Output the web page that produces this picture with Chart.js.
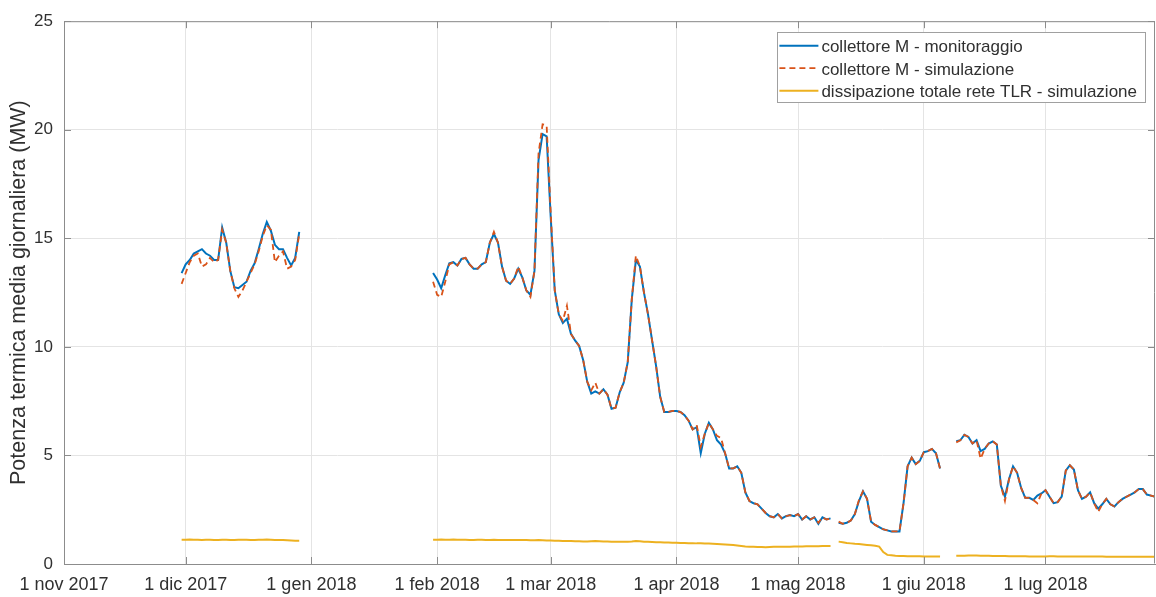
<!DOCTYPE html>
<html>
<head>
<meta charset="utf-8">
<script src="https://cdn.jsdelivr.net/npm/chart.js@4.4.1/dist/chart.umd.min.js"></script>
<style>
  html, body { margin: 0; padding: 0; background: #ffffff; }
  #wrap { width: 1156px; height: 597px; }
</style>
</head>
<body>
<div id="wrap"><canvas id="c" width="1156" height="597"></canvas></div>
<script>
// ---------------- DATA ----------------
const originDate = '2017-11-01';
const endDate = '2018-07-28';
const tickDates = ['2017-11-01','2017-12-01','2018-01-01','2018-02-01','2018-03-01','2018-04-01','2018-05-01','2018-06-01','2018-07-01'];
const tickLabels = ['1 nov 2017','1 dic 2017','1 gen 2018','1 feb 2018','1 mar 2018','1 apr 2018','1 mag 2018','1 giu 2018','1 lug 2018'];
const yTicks = [0, 5, 10, 15, 20, 25];

const seriesLabels = ['collettore M - monitoraggio', 'collettore M - simulazione', 'dissipazione totale rete TLR - simulazione'];
const yTitle = 'Potenza termica media giornaliera (MW)';

// first day of each continuous block of daily values
const segmentStarts = ['2017-11-30', '2018-01-31', '2018-05-11', '2018-06-09'];

// collettore M - monitoraggio (daily, MW)
const monitor1 = [13.4,13.8,14.0,14.3,14.4,14.5,14.3,14.2,14.0,14.0,15.5,14.8,13.5,12.75,12.7,12.85,13.0,13.5,13.85,14.5,15.2,15.75,15.35,14.7,14.5,14.5,14.1,13.75,14.1,15.3];
const monitor2 = [13.4,13.1,12.7,13.3,13.85,13.9,13.75,14.05,14.1,13.8,
                  13.6,13.6,13.8,13.9,14.8,15.2,14.8,13.7,13.05,12.9,
                  13.15,13.6,13.2,12.6,12.4,13.5,18.6,19.8,19.7,16.0,
                  12.6,11.5,11.1,11.3,10.6,10.3,10.05,9.4,8.4,7.85,
                  7.95,7.85,8.05,7.8,7.15,7.2,7.9,8.35,9.3,12.2,
                  14.0,13.7,12.5,11.5,10.3,9.1,7.7,7.0,7.0,7.05,
                  7.05,7.0,6.85,6.6,6.2,6.3,5.1,6.0,6.5,6.2,
                  5.7,5.5,5.1,4.4,4.4,4.5,4.2,3.3,2.9,2.8,
                  2.75,2.55,2.35,2.2,2.15,2.3,2.1,2.2,2.25,2.2,
                  2.3,2.05,2.2,2.05,2.15,1.85,2.15,2.05,2.1];
const monitor3 = [1.9,1.85,1.9,2.0,2.3,2.9,3.35,3.0,1.95,1.8,1.7,1.6,1.55,1.5,1.5,1.5,2.8,4.5,4.9,4.6,4.75,5.15,5.2,5.3,5.1,4.4];
const monitor4 = [5.65,5.7,5.95,5.85,5.55,5.7,5.2,5.3,5.55,5.65,
                  5.5,3.6,3.1,3.9,4.5,4.2,3.5,3.05,3.05,2.95,
                  3.15,3.25,3.4,3.1,2.8,2.85,3.1,4.3,4.55,4.35,
                  3.4,3.0,3.1,3.3,2.8,2.55,2.75,3.0,2.75,2.65,
                  2.85,3.0,3.1,3.2,3.3,3.45,3.45,3.2,3.15,3.1];

// collettore M - simulazione (daily, MW)
const simul1 = [12.9,13.4,13.9,14.2,14.3,13.7,13.8,14.1,13.9,14.0,15.4,14.8,13.5,12.7,12.3,12.6,13.0,13.4,13.8,14.4,15.1,15.6,15.4,13.9,14.2,14.4,13.6,13.7,14.0,15.2];
const simul2 = [13.0,12.4,12.3,13.0,13.8,13.9,13.75,14.05,14.1,13.8,
                13.6,13.6,13.8,13.9,14.8,15.3,14.8,13.7,13.05,12.9,
                13.15,13.7,13.2,12.6,12.3,13.5,18.9,20.25,20.2,16.2,
                12.6,11.5,11.2,11.9,10.6,10.3,10.05,9.4,8.4,8.0,
                8.35,7.85,8.05,7.8,7.15,7.2,7.9,8.35,9.3,12.2,
                14.2,13.7,12.5,11.5,10.3,9.1,7.7,7.0,7.0,7.05,
                7.05,7.0,6.85,6.6,6.2,6.4,5.4,6.0,6.5,6.2,
                5.9,5.8,5.1,4.4,4.4,4.5,4.2,3.3,2.9,2.8,
                2.75,2.55,2.35,2.2,2.15,2.3,2.1,2.2,2.25,2.2,
                2.3,2.05,2.2,2.05,2.15,1.9,2.15,2.05,2.1];
const simul3 = [1.95,1.85,1.9,2.0,2.3,2.95,3.35,3.0,1.95,1.8,1.7,1.6,1.55,1.5,1.5,1.5,2.8,4.5,4.9,4.6,4.75,5.15,5.2,5.3,5.1,4.4];
const simul4 = [5.6,5.7,5.95,5.85,5.55,5.7,4.85,5.3,5.55,5.65,
                5.5,3.6,2.9,3.9,4.5,4.2,3.5,3.05,3.05,2.95,
                2.8,3.25,3.4,3.1,2.8,2.85,3.1,4.3,4.55,4.35,
                3.4,3.0,3.1,3.3,2.8,2.4,2.75,3.0,2.75,2.65,
                2.85,3.0,3.1,3.2,3.3,3.45,3.45,3.2,3.15,3.1];

// dissipazione totale rete TLR - simulazione (daily, MW)
const dissip1 = [1.12,1.12,1.13,1.12,1.12,1.11,1.12,1.12,1.11,1.11,1.12,1.12,1.11,1.11,1.12,1.12,1.12,1.11,1.11,1.12,1.12,1.13,1.12,1.11,1.1,1.1,1.09,1.08,1.07,1.07];
const dissip2 = [1.12,1.12,1.13,1.12,1.12,1.13,1.12,1.12,1.12,1.11,
                 1.11,1.12,1.12,1.11,1.11,1.12,1.11,1.11,1.1,1.1,
                 1.1,1.11,1.1,1.1,1.09,1.09,1.1,1.09,1.08,1.08,
                 1.07,1.07,1.06,1.06,1.06,1.05,1.05,1.04,1.04,1.05,
                 1.06,1.05,1.04,1.04,1.03,1.03,1.02,1.02,1.03,1.04,
                 1.06,1.05,1.03,1.02,1.01,1.0,1.0,0.99,0.99,0.98,
                 0.98,0.97,0.97,0.96,0.96,0.95,0.95,0.94,0.94,0.93,
                 0.92,0.91,0.9,0.89,0.87,0.85,0.83,0.81,0.8,0.79,
                 0.78,0.78,0.77,0.78,0.79,0.79,0.8,0.8,0.8,0.81,
                 0.81,0.81,0.82,0.82,0.82,0.82,0.83,0.83,0.83];
const dissip3 = [1.03,1.0,0.97,0.95,0.93,0.92,0.9,0.88,0.86,0.84,0.8,0.55,0.42,0.4,0.38,0.37,0.37,0.36,0.36,0.36,0.36,0.35,0.35,0.35,0.35,0.34];
const dissip4 = [0.38,0.38,0.38,0.39,0.39,0.39,0.38,0.38,0.38,0.37,
                 0.37,0.37,0.37,0.36,0.36,0.36,0.36,0.36,0.35,0.35,
                 0.35,0.35,0.35,0.36,0.36,0.35,0.35,0.35,0.35,0.35,
                 0.34,0.34,0.34,0.34,0.34,0.34,0.34,0.33,0.33,0.33,
                 0.33,0.33,0.33,0.33,0.33,0.33,0.33,0.33,0.33,0.33];

// ---------------- HELPERS ----------------
const DAY = 86400000;
const dayOf = s => Math.round((Date.parse(s + 'T00:00:00Z') - Date.parse(originDate + 'T00:00:00Z')) / DAY);
const tickDays = tickDates.map(dayOf);

function buildSeries(segments) {
  const pts = [];
  segments.forEach((vals, k) => {
    const s = dayOf(segmentStarts[k]);
    if (k > 0) pts.push({ x: s - 0.5, y: null });
    vals.forEach((v, i) => pts.push({ x: s + i, y: v }));
  });
  return pts;
}

const FONT = "'Liberation Sans', Arial, Helvetica, sans-serif";
const textColor = '#303030';
const axisColor = '#8c8c8c';
const gridColor = '#e4e4e4';
const colBlue = '#0072BD';
const colOrange = '#D95319';
const colYellow = '#EDB120';

// frame + inward ticks (MATLAB style box)
const framePlugin = {
  id: 'frame',
  afterDatasetsDraw(chart) {
    const { ctx, chartArea: a, scales } = chart;
    ctx.save();
    ctx.strokeStyle = axisColor;
    ctx.lineWidth = 1;
    ctx.beginPath();
    ctx.moveTo(a.left + 0.5, a.top + 0.5);
    ctx.lineTo(a.right - 0.5, a.top + 0.5);
    ctx.lineTo(a.right - 0.5, a.bottom - 0.5);
    ctx.stroke();
    const tl = 7;
    ctx.beginPath();
    scales.x.ticks.forEach(t => {
      const px = Math.round(scales.x.getPixelForValue(t.value)) + 0.5;
      ctx.moveTo(px, a.bottom); ctx.lineTo(px, a.bottom - tl);
      ctx.moveTo(px, a.top); ctx.lineTo(px, a.top + tl);
    });
    scales.y.ticks.forEach(t => {
      const py = Math.round(scales.y.getPixelForValue(t.value)) + 0.5;
      ctx.moveTo(a.left, py); ctx.lineTo(a.left + tl, py);
      ctx.moveTo(a.right, py); ctx.lineTo(a.right - tl, py);
    });
    ctx.stroke();
    ctx.restore();
  }
};

// boxed legend inside the plot (top right)
const boxLegendPlugin = {
  id: 'boxLegend',
  afterDraw(chart) {
    const { ctx, chartArea: a } = chart;
    const ds = chart.data.datasets;
    ctx.save();
    ctx.font = '17px ' + FONT;
    let maxW = 0;
    ds.forEach(d => { maxW = Math.max(maxW, ctx.measureText(d.label).width); });
    const right = a.right - 10;
    const top = a.top + 11;
    const w = 44 + maxW + 8;
    const left = right - w;
    const rowH = 22.5;
    const h = 70;
    ctx.fillStyle = '#ffffff';
    ctx.fillRect(left, top, w, h);
    ctx.strokeStyle = '#a0a0a0';
    ctx.lineWidth = 1;
    ctx.strokeRect(Math.round(left) + 0.5, Math.round(top) + 0.5, Math.round(w), h);
    ds.forEach((d, i) => {
      const cy = top + 15.5 + i * rowH;
      ctx.beginPath();
      ctx.strokeStyle = d.borderColor;
      ctx.lineWidth = d.borderWidth;
      ctx.setLineDash(d.borderDash || []);
      ctx.moveTo(left + 2, cy - 2);
      ctx.lineTo(left + 41, cy - 2);
      ctx.stroke();
      ctx.setLineDash([]);
      ctx.fillStyle = textColor;
      ctx.textBaseline = 'middle';
      ctx.textAlign = 'left';
      ctx.fillText(d.label, left + 44, cy);
    });
    ctx.restore();
  }
};

new Chart(document.getElementById('c'), {
  type: 'line',
  data: {
    datasets: [
      { label: seriesLabels[0], data: buildSeries([monitor1, monitor2, monitor3, monitor4]),
        borderColor: colBlue, borderWidth: 2, pointRadius: 0, tension: 0, order: 1, spanGaps: false },
      { label: seriesLabels[1], data: buildSeries([simul1, simul2, simul3, simul4]),
        borderColor: colOrange, borderWidth: 1.8, borderDash: [6, 4], pointRadius: 0, tension: 0, order: 0, spanGaps: false },
      { label: seriesLabels[2], data: buildSeries([dissip1, dissip2, dissip3, dissip4]),
        borderColor: colYellow, borderWidth: 2, pointRadius: 0, tension: 0, order: 2, spanGaps: false }
    ]
  },
  options: {
    responsive: false,
    devicePixelRatio: 1,
    animation: false,
    parsing: true,
    layout: { padding: { top: 19, right: 1, left: 0, bottom: 0 } },
    plugins: { legend: { display: false }, tooltip: { enabled: false } },
    scales: {
      x: {
        type: 'linear',
        min: 0,
        max: dayOf(endDate),
        afterBuildTicks: s => { s.ticks = tickDays.map(v => ({ value: v })); },
        afterFit: s => { s.height = 33; },
        ticks: {
          autoSkip: false, maxRotation: 0, minRotation: 0, padding: 10,
          color: textColor, font: { family: FONT, size: 18 },
          callback: v => tickLabels[tickDays.indexOf(v)]
        },
        grid: { color: gridColor, drawTicks: false },
        border: { display: true, color: axisColor }
      },
      y: {
        min: 0,
        max: 25,
        afterBuildTicks: s => { s.ticks = yTicks.map(v => ({ value: v })); },
        afterFit: s => { s.width = 64; },
        ticks: { padding: 11, color: textColor, font: { family: FONT, size: 17 } },
        grid: { color: gridColor, drawTicks: false },
        border: { display: true, color: axisColor },
        title: { display: true, text: yTitle, color: textColor, font: { family: FONT, size: 21.5 }, padding: { top: 6, bottom: 0 } }
      }
    }
  },
  plugins: [framePlugin, boxLegendPlugin]
});
</script>
</body>
</html>
